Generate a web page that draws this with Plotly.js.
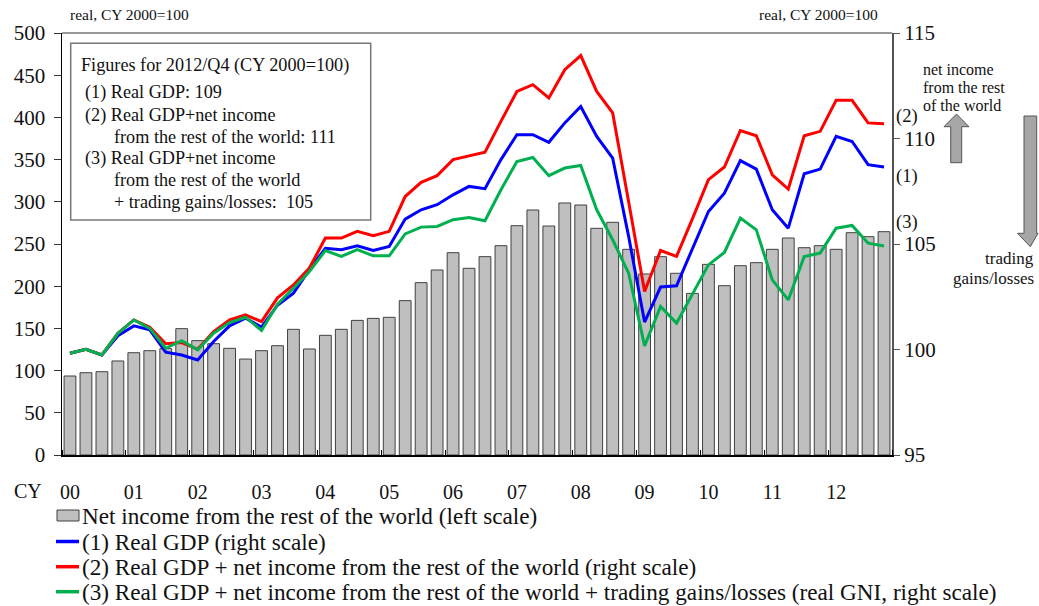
<!DOCTYPE html>
<html>
<head>
<meta charset="utf-8">
<script src="https://cdn.plot.ly/plotly-3.0.1.min.js"></script>
<style>html,body{margin:0;padding:0;background:#fff;}#chart{width:1039px;height:606px;}</style>
</head>
<body>
<div id="chart"></div>
<script>
// ---- data (quarterly, 2000/Q1 .. 2012/Q4) ----
const quarters = Array.from({length: 52}, (_, i) => i);
const yearLabels = ["00","01","02","03","04","05","06","07","08","09","10","11","12"];
const yearTickIdx = [0,4,8,12,16,20,24,28,32,36,40,44,48];

const netIncome = [93.6,97.5,98.7,111.4,121.2,123.6,126,149.7,135.5,131.9,126.4,113.7,
  123.6,129.5,148.9,125.6,141.8,148.9,159.5,161.9,163.1,182.9,204.2,219.2,
  239.7,221.2,235,248,271.7,290.3,271.3,298.6,296.2,268.6,275.7,243.7,
  214.5,235,215.3,191.5,225.9,200.6,224.3,227.9,243.7,257.1,245.6,248,
  243.7,263.4,258.7,264.6];

const realGDP = [99.82,100.01,99.74,100.65,101.12,100.93,99.87,99.74,99.5,100.38,101.12,101.48,
  101.06,102.1,102.67,103.78,104.8,104.73,104.91,104.69,104.88,106.18,106.62,106.86,
  107.33,107.73,107.62,109.0,110.18,110.18,109.82,110.74,111.52,110.1,109.07,105.36,
  101.3,102.96,103.02,104.8,106.54,107.41,108.95,108.55,106.62,105.75,108.33,108.55,
  110.1,109.86,108.76,108.65];

const gdpPlusIncome = [99.82,100.01,99.74,100.77,101.4,101.06,100.27,100.33,100.01,100.85,101.4,101.64,
  101.32,102.45,103.06,103.86,105.28,105.28,105.6,105.39,105.6,107.25,107.92,108.24,
  109.0,109.18,109.35,110.81,112.23,112.55,111.92,113.26,113.93,112.23,111.21,107.0,
  102.75,104.69,104.41,106.2,108.05,108.65,110.38,110.13,108.28,107.6,110.13,110.34,
  111.81,111.81,110.74,110.7];

const realGNI = [99.82,100.01,99.74,100.77,101.4,101.0,100.06,100.42,99.98,100.77,101.28,101.53,
  100.9,102.15,102.9,103.7,104.69,104.41,104.73,104.44,104.44,105.48,105.8,105.83,
  106.15,106.26,106.1,107.57,108.91,109.1,108.24,108.6,108.72,106.62,105.2,103.62,
  100.17,102.04,101.25,102.6,104.01,104.6,106.23,105.67,103.3,102.35,104.41,104.57,
  105.75,105.88,105.04,104.91];

const seriesNames = [
  "Net income from the rest of the world (left scale)",
  "(1) Real GDP (right scale)",
  "(2) Real GDP + net income from the rest of the world (right scale)",
  "(3) Real GDP + net income from the rest of the world + trading gains/losses (real GNI, right scale)"
];
const boxLines = [
  "Figures for 2012/Q4 (CY 2000=100)",
  "(1) Real GDP: 109",
  "(2) Real GDP+net income",
  "from the rest of the world: 111",
  "(3) Real GDP+net income",
  "from the rest of the world",
  "+ trading gains/losses:  105"
];
const seriesTags = ["(1)", "(2)", "(3)"];
const upArrowLabel = ["net income", "from the rest", "of the world"];
const downArrowLabel = ["trading", "gains/losses"];

// ---- styling / layout helpers ----
const FONT = "Liberation Serif, Times New Roman, serif";
const L = 62, R = 892, T = 33, B = 455;
const px = x => (x - L) / (R - L);
const py = y => (B - y) / (B - T);
const lineColors = ["#0000FF", "#FF0000", "#00B050"];
const barFill = "#BFBFBF", barEdge = "#404040";

const traces = [
  {type: "bar", x: quarters, y: netIncome, name: seriesNames[0], yaxis: "y",
   width: 0.74, marker: {color: barFill, line: {color: barEdge, width: 1}}},
  {type: "scatter", mode: "lines", x: quarters, y: realGDP, name: seriesNames[1], yaxis: "y2",
   line: {color: lineColors[0], width: 3}},
  {type: "scatter", mode: "lines", x: quarters, y: gdpPlusIncome, name: seriesNames[2], yaxis: "y2",
   line: {color: lineColors[1], width: 3}},
  {type: "scatter", mode: "lines", x: quarters, y: realGNI, name: seriesNames[3], yaxis: "y2",
   line: {color: lineColors[2], width: 3}}
];

const annotations = [];
const shapes = [];
function txt(text, x, y, size, xanchor, extra) {
  annotations.push(Object.assign({text: text, xref: "paper", yref: "paper", x: px(x), y: py(y),
    xanchor: xanchor || "left", yanchor: "middle", showarrow: false,
    font: {family: FONT, size: size, color: "#111"}}, extra || {}));
}

// top unit labels
txt("real, CY 2000=100", 68, 15, 15.5, "left");
txt("real, CY 2000=100", 880, 15, 15.5, "right");
// CY label
txt("CY", 28, 491, 20, "center");

// box with 2012/Q4 figures
shapes.push({type: "rect", xref: "paper", yref: "paper", x0: px(70.7), x1: px(370.7), y0: py(220), y1: py(43.3),
  line: {color: "#777", width: 1.5}, fillcolor: "rgba(255,255,255,0)"});
const boxX = [79.3, 83.3, 83.3, 111.7, 83.3, 111.7, 111.7];
const boxY = [65, 92.7, 115, 136.5, 158.3, 180, 201.7];
boxLines.forEach((s, i) => txt(s, boxX[i], boxY[i], 18.2, "left"));

// right side series tags (1),(2),(3)
const tagY = [176.7, 116.7, 222];
seriesTags.forEach((s, i) => txt(s, 907, tagY[i], 18.5, "center"));
const upY = [70, 87.7, 105.5];
upArrowLabel.forEach((s, i) => txt(s, 921, upY[i], 16, "left"));
const downY = [258, 278];
downArrowLabel.forEach((s, i) => txt(s, 1036, downY[i], 17, "right"));

// block arrows
function poly(pts) {
  return "M " + pts.map(p => px(p[0]) + "," + py(p[1])).join(" L ") + " Z";
}
shapes.push({type: "path", xref: "paper", yref: "paper",
  path: poly([[956.5,114],[969,126.7],[961.7,126.7],[961.7,162.7],[950.7,162.7],[950.7,126.7],[944,126.7]]),
  fillcolor: "#A6A6A6", line: {color: "#555", width: 1}});
shapes.push({type: "path", xref: "paper", yref: "paper",
  path: poly([[1024,116],[1036.7,116],[1036.7,233.3],[1038,233.3],[1030.3,246.7],[1017.5,233.3],[1024,233.3]]),
  fillcolor: "#A6A6A6", line: {color: "#555", width: 1}});

// top frame line
shapes.push({type: "line", xref: "paper", yref: "paper", x0: 0, x1: 1, y0: 1, y1: 1,
  line: {color: "#999", width: 2}});

// manual legend
const legRows = [515.5, 541.5, 566.7, 591.7];
shapes.push({type: "rect", xref: "paper", yref: "paper", x0: px(57), x1: px(79), y0: py(521), y1: py(510),
  fillcolor: barFill, line: {color: barEdge, width: 1}});
for (let i = 1; i < 4; i++) {
  shapes.push({type: "line", xref: "paper", yref: "paper", x0: px(56), x1: px(79), y0: py(legRows[i]), y1: py(legRows[i]),
    line: {color: lineColors[i - 1], width: 3.5}});
}
seriesNames.forEach((s, i) => txt(s, 79.5, legRows[i], 23.2, "left"));

const layout = {
  width: 1039, height: 606,
  margin: {l: L, r: 1039 - R, t: T, b: 606 - B, pad: 0},
  paper_bgcolor: "#fff", plot_bgcolor: "#fff",
  showlegend: false,
  bargap: 0.26,
  font: {family: FONT, size: 20, color: "#111"},
  xaxis: {range: [-0.5, 51.5], showgrid: false, zeroline: false,
    showline: true, linecolor: "#000", linewidth: 1.5,
    tickmode: "array", tickvals: yearTickIdx, ticktext: yearLabels, ticks: "",
    ticklabelstandoff: 18, tickfont: {family: FONT, size: 20, color: "#111"},
    minor: {ticks: "inside", ticklen: 5, tick0: 3.5, dtick: 4, tickcolor: "#000", tickwidth: 1, showgrid: false}},
  yaxis: {range: [0, 500], dtick: 50, tick0: 0, showgrid: false, zeroline: false,
    showline: true, linecolor: "#000", linewidth: 1.5,
    ticks: "outside", ticklen: 7, tickcolor: "#333", tickwidth: 1, ticklabelstandoff: 4,
    tickfont: {family: FONT, size: 21, color: "#111"}},
  yaxis2: {range: [95, 115], dtick: 5, tick0: 95, overlaying: "y", side: "right",
    showgrid: false, zeroline: false, showline: true, linecolor: "#555", linewidth: 2,
    ticks: "outside", ticklen: 6, tickcolor: "#555", tickwidth: 1,
    tickfont: {family: FONT, size: 21, color: "#111"}},
  annotations: annotations,
  shapes: shapes
};

Plotly.newPlot("chart", traces, layout, {displayModeBar: false, staticPlot: true});
</script>
</body>
</html>
